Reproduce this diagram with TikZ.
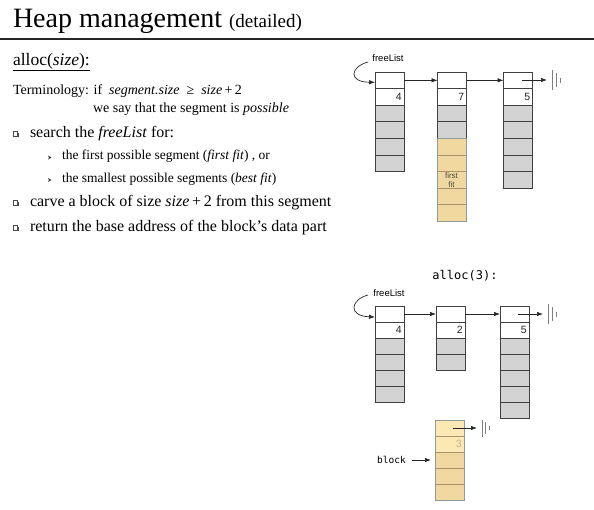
\documentclass[tikz,border=0pt]{standalone}
\usepackage{fontspec}
\setmainfont{Liberation Serif}
\newfontfamily\arialf{Liberation Sans}
\newfontfamily\monof{DejaVu Sans Mono}
\usetikzlibrary{arrows.meta}
\definecolor{tanY}{HTML}{F0D8A0}
\definecolor{lightY}{HTML}{FCE8B2}
\definecolor{sepY}{HTML}{A8926A}
\definecolor{edgeY}{HTML}{8C9C98}
\definecolor{cellG}{HTML}{D3D3D3}
\definecolor{numFade}{HTML}{C4B48C}
\begin{document}
\begin{tikzpicture}[x=1pt,y=-1pt,
  txt/.style={anchor=base west, inner sep=0pt, outer sep=0pt},
  cell/.style={draw=black!75, line width=0.7pt, anchor=north west, minimum width=29pt, inner sep=0pt, outer sep=0pt},
  cw/.style={fill=white},
  cg/.style={fill=cellG},
  cy/.style={fill=tanY, draw=sepY},
  cl/.style={fill=lightY, draw=sepY},
  yedge/.style={draw=edgeY, line width=0.9pt},
  num/.style={anchor=east, inner sep=0pt, font=\arialf\fontsize{10.5}{11}\selectfont, text=black!85},
  conn/.style={draw=black!85, line width=0.7pt, -{Latex[length=6pt,width=4.5pt]}},
  lab/.style={inner sep=0pt, font=\arialf\fontsize{9.5}{10}\selectfont},
  sqb/.pic={\fill[black!70] (1,-4.5) rectangle (5.5,0);
            \draw[black!70, fill=white, line width=0.5pt] (0,-5.5) rectangle (4.5,-1);},
  chev/.pic={\fill[black!80] (0,-2) -- (3.5,0) -- (0,2) -- (1,0) -- cycle;},
  gnd/.pic={\draw[gray, line width=0.8pt] (0,-10) -- (0,10);
            \draw[gray, line width=0.8pt] (4,-7) -- (4,7);
            \draw[gray, line width=0.8pt] (8.5,-2.5) -- (8.5,2.5);}
]
\useasboundingbox (0,0) rectangle (594,509);

% ---------------- left text ----------------
\node[txt] (title) at (13,27) {\fontsize{28}{30}\selectfont Heap management {\fontsize{19}{22}\selectfont (detailed)}};
\draw[line width=1.1pt, black!85] (0,39) -- (594,39);

\node[txt] (alloc) at (13,65) {\fontsize{17.5}{20}\selectfont\underline{alloc(\textit{size}):}};
\node[txt] (term) at (13,94) {\fontsize{14}{16}\selectfont Terminology: if\ \ \textit{segment.size}\ \ ≥\ \ \textit{size}\,+\,2};
\node[txt] (say) at (93,112) {\fontsize{14}{16}\selectfont we say that the segment is \textit{possible}};

\pic at (13,137) {sqb};
\node[txt] (s1) at (30,137) {\fontsize{16}{18}\selectfont search the \textit{freeList} for:};
\pic at (48,157.5) {chev};
\node[txt] (s1a) at (62,159) {\fontsize{13.5}{16}\selectfont the first possible segment (\textit{first fit}) , or};
\pic at (48,180) {chev};
\node[txt] (s1b) at (62,182) {\fontsize{13.5}{16}\selectfont the smallest possible segments (\textit{best fit})};
\pic at (13,206) {sqb};
\node[txt] (s2) at (30,206) {\fontsize{16}{18}\selectfont carve a block of size \textit{size}\,+\,2 from this segment};
\pic at (13,231) {sqb};
\node[txt] (s3) at (30,231) {\fontsize{16}{18}\selectfont return the base address of the block’s data part};

% ---------------- top diagram ----------------
\foreach \s [count=\i] in {cw,cw,cg,cg,cg,cg}
  \node[cell,\s,minimum height=16.6pt] (A\i) at (375,{72+(\i-1)*16.6}) {};
\foreach \s [count=\i] in {cw,cw,cg,cg,cy,cy,cy,cy,cy}
  \node[cell,\s,minimum height=16.6pt] (B\i) at (437.5,{72+(\i-1)*16.6}) {};
\draw[yedge] (B5.north west) rectangle (B9.south east);
\foreach \s [count=\i] in {cw,cw,cg,cg,cg,cg,cg}
  \node[cell,\s,minimum height=16.6pt] (C\i) at (503.5,{72+(\i-1)*16.6}) {};

\node[num] (nA) at ([xshift=-2pt]A2.east) {4};
\node[num] (nB) at ([xshift=-2pt]B2.east) {7};
\node[num] (nC) at ([xshift=-2pt]C2.east) {5};
\node[inner sep=0pt, align=center, font=\arialf\fontsize{8}{9.5}\selectfont, text=black!70] (ff) at ([xshift=-0.5pt]B7.center) {first\\fit};

\node[lab] (fl1) at (388,58) {freeList};
\coordinate (fl1s) at (368,62);
\draw[conn] (fl1s) .. controls (350,67) and (348,82) .. ([yshift=-2pt]A1.west);
\draw[conn] (A1) -- (B1);
\draw[conn] (B1) -- (C1);
\coordinate (c1s) at (522,80);
\coordinate (c1e) at (547,80);
\draw[conn] (c1s) -- (c1e);
\pic at (552,80) {gnd};

% ---------------- bottom diagram ----------------
\node[inner sep=0pt, font=\monof\fontsize{12}{13}\selectfont] (title2) at (465,276) {alloc(3):};

\foreach \s [count=\i] in {cw,cw,cg,cg,cg,cg}
  \node[cell,\s,minimum height=16pt] (D\i) at (375,{306+(\i-1)*16}) {};
\foreach \s [count=\i] in {cw,cw,cg,cg}
  \node[cell,\s,minimum height=16pt] (E\i) at (436,{306+(\i-1)*16}) {};
\foreach \s [count=\i] in {cw,cw,cg,cg,cg,cg,cg}
  \node[cell,\s,minimum height=16pt] (F\i) at (500,{306+(\i-1)*16}) {};
\foreach \s [count=\i] in {cl,cl,cy,cy,cy}
  \node[cell,\s,minimum height=16pt] (G\i) at (435,{420+(\i-1)*16}) {};
\draw[yedge] (G1.north west) rectangle (G5.south east);

\node[num] (nD) at ([xshift=-2pt]D2.east) {4};
\node[num] (nE) at ([xshift=-2pt]E2.east) {2};
\node[num] (nF) at ([xshift=-2pt]F2.east) {5};
\node[num, text=numFade] (nG) at ([xshift=-2pt]G2.east) {3};

\node[lab] (fl2) at (389,293) {freeList};
\coordinate (fl2s) at (368,295);
\draw[conn] (fl2s) .. controls (350,300) and (348,316) .. ([yshift=-3pt]D1.west);
\draw[conn] (D1) -- (E1);
\draw[conn] (E1) -- (F1);
\coordinate (f1s) at (518,314);
\coordinate (f1e) at (543,314);
\draw[conn] (f1s) -- (f1e);
\pic at (548,314) {gnd};

\coordinate (g1s) at (453,428);
\coordinate (g1e) at (477,428);
\draw[conn] (g1s) -- (g1e);
\pic[scale=0.85] at (482,428) {gnd};

\node[inner sep=0pt, anchor=west, font=\monof\fontsize{9.5}{10}\selectfont] (blk) at (377,460) {block};
\draw[conn, shorten >=4pt] ([xshift=6pt]blk.east) -- (G3.west);

\end{tikzpicture}
\end{document}
